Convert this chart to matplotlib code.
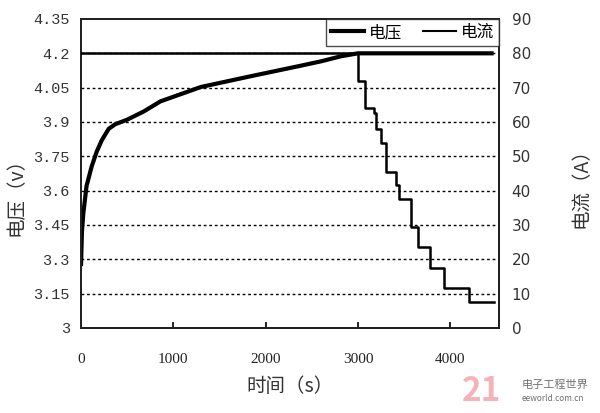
import matplotlib
matplotlib.use("Agg")
import matplotlib.pyplot as plt
from matplotlib.lines import Line2D

plt.rcParams['font.family'] = ['Noto Sans CJK SC', 'DejaVu Sans']

# voltage curve (time s, volts)
volt_t = [0, 10, 25, 60, 115, 170, 225, 300, 370, 500, 680, 860, 1300, 1840, 2370,
          2600, 2815, 3000, 4470]
volt_v = [3.27, 3.42, 3.50, 3.62, 3.705, 3.77, 3.82, 3.87, 3.89, 3.91, 3.946, 3.99,
          4.053, 4.10, 4.145, 4.165, 4.187, 4.2, 4.2]

# current steps: level starts at each time, last time is the end
curr_t = [0, 3000, 3075, 3170, 3200, 3255, 3300, 3415, 3450, 3580, 3650, 3785, 3935, 4205, 4470]
curr_a = [80, 72, 64, 62.5, 58, 54, 45.5, 41.5, 37.5, 29.5, 23.5, 17.5, 11.5, 7.5, 7.5]

v_ticks = [3, 3.15, 3.3, 3.45, 3.6, 3.75, 3.9, 4.05, 4.2, 4.35]
v_labels = ["3", "3.15", "3.3", "3.45", "3.6", "3.75", "3.9", "4.05", "4.2", "4.35"]
a_ticks = [0, 10, 20, 30, 40, 50, 60, 70, 80, 90]
t_ticks = [0, 1000, 2000, 3000, 4000]

fig = plt.figure(figsize=(6.0, 4.13), dpi=100)
ax1 = fig.add_axes([0.135, 0.206, 0.697, 0.748])
ax2 = ax1.twinx()

ax1.set_xlim(0, 4530)
ax1.set_ylim(3, 4.35)
ax2.set_ylim(0, 90)

for y in v_ticks[1:-1]:
    ax1.axhline(y, color='black', lw=1.0, ls=(0, (2, 2)), zorder=1)

ax1.plot(volt_t, volt_v, color='black', lw=3.0, solid_capstyle='butt', zorder=3)
ax2.step(curr_t, curr_a, where='post', color='black', lw=1.8, zorder=3)

ax1.set_yticks(v_ticks)
ax1.set_yticklabels(v_labels, family='Liberation Mono', fontsize=11, color='#333333')
ax2.set_yticks(a_ticks)
ax2.set_yticklabels([str(a) for a in a_ticks], family='Liberation Sans Narrow',
                    fontsize=11, color='#333333')
ax1.set_xticks(t_ticks)
ax1.set_xticklabels([str(t) for t in t_ticks], family='Liberation Serif',
                    fontsize=11, color='#222222')

ax1.tick_params(axis='y', length=0, pad=8)
ax2.tick_params(axis='y', length=0, pad=9)
ax1.tick_params(axis='x', direction='in', length=4, width=1.2, pad=18)

for ax in (ax1, ax2):
    for s in ax.spines.values():
        s.set_linewidth(1.4)
        s.set_color('#222222')

ax1.set_xlabel("时间（s）", fontsize=14, color='#333333', labelpad=7)
ax1.set_ylabel("电压（v）", fontsize=14, color='#333333')
ax2.set_ylabel("电流（A）", fontsize=14, color='#333333')
ax1.yaxis.set_label_coords(-0.13, 0.44)
ax2.yaxis.set_label_coords(1.17, 0.47)

handles = [Line2D([], [], color='black', lw=3.0), Line2D([], [], color='black', lw=1.5)]
leg = ax2.legend(handles, ["电压", "电流"], ncol=2, loc='upper right',
                 bbox_to_anchor=(1.0, 1.0), frameon=True, fancybox=False,
                 borderaxespad=0, handlelength=2.0, columnspacing=1.2,
                 handletextpad=0.3, fontsize=12, borderpad=0.3)
leg.get_frame().set_edgecolor('#222222')
leg.get_frame().set_linewidth(1.0)

# watermark
fig.text(0.77, 0.03, "21", fontsize=24, color='#f2a0a8', weight='bold', alpha=0.8)
fig.text(0.87, 0.06, "电子工程世界", fontsize=8, color='#707070')
fig.text(0.87, 0.03, "eeworld.com.cn", fontsize=6, color='#707070', style='italic')

fig.savefig("out.png", dpi=100)
